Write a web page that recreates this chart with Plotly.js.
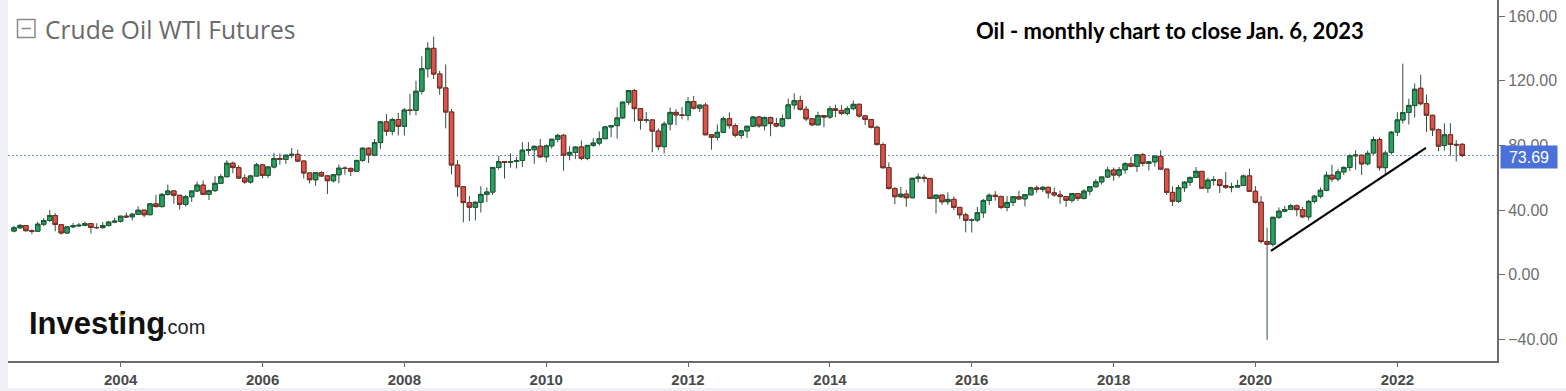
<!DOCTYPE html>
<html><head><meta charset="utf-8">
<script src="https://cdn.plot.ly/plotly-3.0.1.min.js"></script>
<style>
html,body{margin:0;padding:0;background:#eef0f4;width:1566px;height:391px;overflow:hidden}
#chart{position:absolute;left:8px;top:0;width:1558px;height:388px;background:#fff}
</style></head><body><div id="chart"></div>
<script>
const months = [
"2002-08","2002-09","2002-10","2002-11","2002-12",
"2003-01","2003-02","2003-03","2003-04","2003-05","2003-06","2003-07","2003-08","2003-09","2003-10","2003-11","2003-12",
"2004-01","2004-02","2004-03","2004-04","2004-05","2004-06","2004-07","2004-08","2004-09","2004-10","2004-11","2004-12",
"2005-01","2005-02","2005-03","2005-04","2005-05","2005-06","2005-07","2005-08","2005-09","2005-10","2005-11","2005-12",
"2006-01","2006-02","2006-03","2006-04","2006-05","2006-06","2006-07","2006-08","2006-09","2006-10","2006-11","2006-12",
"2007-01","2007-02","2007-03","2007-04","2007-05","2007-06","2007-07","2007-08","2007-09","2007-10","2007-11","2007-12",
"2008-01","2008-02","2008-03","2008-04","2008-05","2008-06","2008-07","2008-08","2008-09","2008-10","2008-11","2008-12",
"2009-01","2009-02","2009-03","2009-04","2009-05","2009-06","2009-07","2009-08","2009-09","2009-10","2009-11","2009-12",
"2010-01","2010-02","2010-03","2010-04","2010-05","2010-06","2010-07","2010-08","2010-09","2010-10","2010-11","2010-12",
"2011-01","2011-02","2011-03","2011-04","2011-05","2011-06","2011-07","2011-08","2011-09","2011-10","2011-11","2011-12",
"2012-01","2012-02","2012-03","2012-04","2012-05","2012-06","2012-07","2012-08","2012-09","2012-10","2012-11","2012-12",
"2013-01","2013-02","2013-03","2013-04","2013-05","2013-06","2013-07","2013-08","2013-09","2013-10","2013-11","2013-12",
"2014-01","2014-02","2014-03","2014-04","2014-05","2014-06","2014-07","2014-08","2014-09","2014-10","2014-11","2014-12",
"2015-01","2015-02","2015-03","2015-04","2015-05","2015-06","2015-07","2015-08","2015-09","2015-10","2015-11","2015-12",
"2016-01","2016-02","2016-03","2016-04","2016-05","2016-06","2016-07","2016-08","2016-09","2016-10","2016-11","2016-12",
"2017-01","2017-02","2017-03","2017-04","2017-05","2017-06","2017-07","2017-08","2017-09","2017-10","2017-11","2017-12",
"2018-01","2018-02","2018-03","2018-04","2018-05","2018-06","2018-07","2018-08","2018-09","2018-10","2018-11","2018-12",
"2019-01","2019-02","2019-03","2019-04","2019-05","2019-06","2019-07","2019-08","2019-09","2019-10","2019-11","2019-12",
"2020-01","2020-02","2020-03","2020-04","2020-05","2020-06","2020-07","2020-08","2020-09","2020-10","2020-11","2020-12",
"2021-01","2021-02","2021-03","2021-04","2021-05","2021-06","2021-07","2021-08","2021-09","2021-10","2021-11","2021-12",
"2022-01","2022-02","2022-03","2022-04","2022-05","2022-06","2022-07","2022-08","2022-09","2022-10","2022-11","2022-12",
"2023-01"];

const open = [
27.0,29.0,30.4,27.2,26.9,
31.2,33.5,36.6,30.9,25.8,29.6,30.2,30.5,31.6,29.2,29.1,30.4,
32.5,33.1,36.2,35.8,37.4,39.9,37.1,43.8,42.1,49.6,51.8,49.1,
43.5,48.2,51.8,55.4,49.7,52.0,56.5,60.6,68.9,66.2,59.8,57.3,
61.0,67.9,61.4,66.6,71.9,71.3,73.9,74.4,70.3,62.9,58.7,63.1,
61.1,58.1,61.8,65.9,65.7,64.0,70.7,78.2,74.0,81.7,94.5,88.7,
96.0,91.8,101.8,101.6,113.5,127.4,140.0,124.1,115.5,100.6,67.8,54.4,
44.6,41.7,44.8,49.7,51.1,66.3,69.9,69.5,70.0,70.6,77.0,77.3,
79.4,72.9,79.7,83.8,86.2,74.0,75.6,79.0,71.9,80.0,81.4,84.1,
91.4,92.2,97.0,106.7,113.9,102.7,95.4,95.7,88.8,79.2,93.2,100.4,
98.8,98.5,107.1,103.0,104.9,86.5,85.0,88.1,96.5,92.2,86.2,88.9,
91.8,97.5,92.1,97.2,93.5,92.0,96.6,105.0,107.7,102.3,96.4,92.7,
98.4,97.5,102.6,101.6,99.7,102.7,105.4,98.2,96.0,91.2,80.5,66.2,
53.3,48.2,49.8,47.6,59.6,60.2,59.5,47.1,49.2,45.1,46.6,41.6,
37.0,33.6,33.8,38.3,45.9,49.1,48.3,41.6,44.7,48.2,46.9,49.4,
53.7,52.8,54.0,50.6,49.3,48.3,46.0,50.2,47.2,51.7,54.4,57.4,
60.4,64.7,61.6,64.9,68.6,67.0,74.2,68.8,69.8,73.2,65.3,50.9,
45.4,53.8,57.2,60.1,63.9,53.5,58.5,58.6,55.1,54.1,54.2,55.2,
61.1,51.6,44.8,20.5,18.8,35.5,39.3,40.3,42.6,40.2,35.8,45.3,
48.5,52.2,61.5,59.2,63.6,66.3,73.5,73.9,68.6,75.3,83.6,66.2,
75.7,88.2,95.7,100.3,104.6,115.3,105.8,98.6,89.6,79.9,86.5,80.6,
80.6];

const high = [
30.3,31.4,30.5,28.0,32.7,
35.0,39.99,38.0,31.0,30.2,32.0,32.0,32.8,31.8,31.8,32.5,33.2,
35.2,36.5,38.4,38.2,42.3,40.0,44.0,49.4,50.5,55.7,52.0,49.3,
49.3,52.1,57.6,58.3,52.6,60.9,62.3,70.85,70.0,67.6,62.1,61.8,
69.2,68.3,67.1,75.35,75.0,74.0,78.4,77.3,70.4,62.9,63.2,64.0,
61.5,62.1,68.1,67.0,66.4,70.7,78.8,78.8,83.9,94.7,99.3,97.0,
100.1,103.0,111.8,119.9,135.1,143.7,147.27,126.1,130.0,102.5,71.0,54.6,
48.6,45.5,54.7,53.9,66.7,73.4,70.0,75.0,72.95,82.0,82.0,80.0,
83.95,80.5,83.9,87.15,87.0,79.4,79.4,83.0,80.1,84.4,88.6,92.1,
92.6,103.4,107.0,114.0,114.8,102.9,100.6,96.0,90.5,94.7,103.4,102.4,
103.7,109.8,110.55,105.1,106.4,86.8,92.9,97.8,100.4,93.6,89.6,91.9,
98.2,98.2,97.8,97.8,97.0,99.0,108.9,112.2,110.7,104.4,96.8,100.8,
98.8,104.4,105.2,104.9,104.3,107.7,105.7,98.8,96.0,92.2,81.8,69.4,
54.2,54.2,52.5,59.9,62.6,62.0,59.7,49.3,49.3,50.9,48.4,42.0,
38.4,34.8,41.9,46.8,50.2,51.7,49.0,48.75,48.3,51.9,49.9,54.5,
55.2,54.9,54.5,53.8,52.0,48.4,50.4,50.4,52.9,54.8,59.05,60.5,
66.7,66.3,66.6,69.6,72.9,74.5,75.3,70.4,73.9,76.9,65.4,54.55,
55.4,57.8,60.7,66.6,64.0,60.0,60.9,58.8,63.4,56.9,58.7,61.9,
65.65,54.7,48.7,29.1,35.7,41.6,42.5,43.8,43.4,41.9,46.3,49.4,
53.9,63.8,67.98,65.5,67.0,74.5,76.98,74.0,76.7,85.4,84.9,76.9,
88.8,100.5,130.5,108.8,118.2,123.7,111.45,98.8,90.4,93.6,93.7,83.3,
81.5];

const low = [
26.2,28.4,26.6,25.0,26.4,
30.0,32.6,26.8,24.8,25.1,28.8,29.5,30.0,25.5,28.2,28.5,29.8,
31.8,32.2,35.0,33.6,37.1,35.5,37.0,41.6,41.6,48.9,43.9,40.3,
42.1,45.0,51.1,49.3,46.2,51.1,56.0,60.2,62.8,59.5,56.2,56.3,
61.0,59.5,59.8,65.7,68.0,68.5,72.0,69.6,59.5,56.5,55.0,60.5,
49.9,57.0,56.5,61.9,61.0,64.0,69.8,69.0,73.3,77.8,85.9,86.2,
86.1,86.1,98.7,98.7,111.5,122.0,121.0,111.3,90.5,62.0,48.3,32.4,
33.2,33.55,38.5,45.0,49.3,65.0,59.5,66.1,65.7,66.5,74.2,68.6,
72.4,69.5,78.0,81.9,64.24,70.8,71.5,70.8,70.8,79.0,79.9,84.0,
85.1,84.1,96.2,105.0,94.6,89.7,93.7,75.7,77.1,74.95,89.2,92.5,
96.1,95.4,102.1,100.7,86.2,77.3,83.0,87.7,90.3,84.9,84.1,84.5,
91.7,90.9,89.3,85.6,91.2,91.1,96.0,102.2,101.4,95.0,91.8,92.4,
91.2,96.4,97.4,98.7,98.5,101.6,97.2,92.5,90.4,79.8,65.7,52.7,
43.6,47.4,42.0,47.1,57.1,57.2,46.7,37.75,43.2,43.2,40.0,34.5,
26.2,26.05,32.5,35.2,43.0,45.8,40.6,39.2,42.5,46.4,42.2,49.4,
50.7,51.2,47.1,48.2,43.8,42.05,44.4,45.6,46.5,49.1,53.9,55.8,
59.9,58.1,59.95,62.4,66.4,63.6,67.0,64.4,66.9,64.9,49.4,42.4,
44.35,51.2,55.0,59.9,53.0,50.6,55.2,50.5,52.9,50.99,54.0,55.0,
51.3,44.0,19.3,-40.3,17.3,34.4,38.7,40.0,36.1,34.9,33.6,44.1,
47.2,51.6,57.3,57.6,61.6,64.2,65.0,61.7,67.6,74.2,64.4,62.4,
74.3,85.7,93.5,92.9,97.2,104.6,88.3,85.7,76.25,76.7,73.6,70.1,
72.7];

const close = [
28.98,30.45,27.22,26.89,31.20,
33.51,36.60,31.04,25.80,29.56,30.19,30.54,31.57,29.20,29.11,30.41,32.52,
33.05,36.16,35.76,37.38,39.88,37.05,43.80,42.12,49.64,51.76,49.13,43.45,
48.20,51.75,55.40,49.72,51.97,56.50,60.57,68.94,66.24,59.76,57.32,61.04,
67.92,61.41,66.63,71.88,71.29,73.93,74.40,70.26,62.91,58.73,63.13,61.05,
58.14,61.79,65.87,65.71,64.01,70.68,78.21,74.04,81.66,94.53,88.71,95.98,
91.75,101.84,101.58,113.46,127.35,140.00,124.08,115.46,100.64,67.81,54.43,44.60,
41.68,44.76,49.66,51.12,66.31,69.89,69.45,69.96,70.61,77.00,77.28,79.36,
72.89,79.66,83.76,86.15,73.97,75.63,78.95,71.92,79.97,81.43,84.11,91.38,
92.19,96.97,106.72,113.93,102.70,95.42,95.70,88.81,79.20,93.19,100.36,98.83,
98.48,107.07,103.02,104.87,86.53,84.96,88.06,96.47,92.19,86.24,88.91,91.82,
97.49,92.05,97.23,93.46,91.97,96.56,105.03,107.65,102.33,96.38,92.72,98.42,
97.49,102.59,101.58,99.74,102.71,105.37,98.17,95.96,91.16,80.54,66.15,53.27,
48.24,49.76,47.60,59.63,60.30,59.47,47.12,49.20,45.09,46.59,41.65,37.04,
33.62,33.75,38.34,45.92,49.10,48.33,41.60,44.70,48.24,46.86,49.44,53.72,
52.81,54.01,50.60,49.33,48.32,46.04,50.17,47.23,51.67,54.38,57.40,60.42,
64.73,61.64,64.94,68.57,67.04,74.15,68.76,69.80,73.25,65.31,50.93,45.41,
53.79,57.22,60.14,63.91,53.50,58.47,58.58,55.10,54.07,54.18,55.17,61.06,
51.56,44.76,20.48,18.84,35.49,39.27,40.27,42.61,40.22,35.79,45.34,48.52,
52.20,61.50,59.16,63.58,66.32,73.47,73.95,68.50,75.03,83.57,66.18,75.21,
88.15,95.72,100.28,104.69,114.67,105.76,98.62,89.55,79.49,86.53,80.55,80.26,
73.69];

// hand-drawn support line (date, price)
const trendX = ["2020-04-21", "2022-06-28"];
const trendY = [14.7, 78.4];

const yTickVals = [-40, 0, 40, 80, 120, 160];
const chartTitle = "Crude Oil WTI Futures";
const noteText = "Oil - monthly chart to close Jan. 6, 2023";

// page-pixel helpers for decorations
const PX0 = 8, PW = 1489, PH = 361;
const px = x => (x - PX0) / PW;
const py = y => 1 - y / PH;

const lastPrice = close[close.length - 1];
// body extents (for drawing bodies over dark wicks)
const bodyTop = open.map((o, i) => Math.max(o, close[i]));
const bodyBot = open.map((o, i) => Math.min(o, close[i]));

const WICK = "#33503c";
const traces = [
  {
    type: "candlestick",
    x: months, open: open, high: high, low: low, close: close,
    increasing: { line: { color: WICK, width: 1 }, fillcolor: "#27a062" },
    decreasing: { line: { color: WICK, width: 1 }, fillcolor: "#d9544b" },
    whiskerwidth: 0, showlegend: false, hoverinfo: "skip"
  },
  {
    type: "candlestick",
    x: months, open: open, high: bodyTop, low: bodyBot, close: close,
    increasing: { line: { color: "#1d5a36", width: 1 }, fillcolor: "#27a062" },
    decreasing: { line: { color: "#7e2b24", width: 1 }, fillcolor: "#d9544b" },
    whiskerwidth: 0, showlegend: false, hoverinfo: "skip"
  },
  {
    type: "scatter", mode: "lines", x: trendX, y: trendY,
    line: { color: "#000000", width: 2.2 }, showlegend: false, hoverinfo: "skip"
  }
];

const layout = {
  width: 1558, height: 388,
  margin: { l: 0, r: 69, t: 0, b: 27, pad: 0 },
  paper_bgcolor: "#ffffff", plot_bgcolor: "#ffffff",
  showlegend: false,
  boxgap: 0.1, boxgroupgap: 0.1, boxmode: "overlay",
  xaxis: {
    type: "date",
    range: ["2002-07-01", "2023-06-29"],
    rangeslider: { visible: false },
    showgrid: false, zeroline: false,
    showline: true, linecolor: "#6b6b6b", linewidth: 2,
    ticks: "outside", ticklen: 4, tickwidth: 1, tickcolor: "#6b6b6b",
    tickmode: "linear", tick0: "2002-02-01", dtick: "M24", tickformat: "%Y",
    tickfont: { family: "Liberation Sans, Arial, sans-serif", size: 15, color: "#4a4a4a", weight: "bold" },
    fixedrange: true
  },
  yaxis: {
    side: "right",
    range: [-53.4, 169.9],
    tickmode: "array", tickvals: yTickVals, tickformat: ".2f",
    showgrid: false, zeroline: false,
    showline: true, linecolor: "#6b6b6b", linewidth: 2,
    ticks: "outside", ticklen: 6, tickwidth: 1, tickcolor: "#6b6b6b",
    tickfont: { family: "Liberation Sans, Arial, sans-serif", size: 16, color: "#6e6e6e" },
    fixedrange: true
  },
  shapes: [
    { type: "line", xref: "paper", yref: "y", x0: 0, x1: 1, y0: lastPrice, y1: lastPrice,
      line: { color: "#6a8ae0", width: 1, dash: "2px,2px" }, layer: "below" },
    { type: "rect", xref: "paper", yref: "paper", x0: px(17.5), x1: px(35), y0: py(37.5), y1: py(19.5),
      line: { color: "#8a8a8a", width: 1.5 } },
    { type: "line", xref: "paper", yref: "paper", x0: px(21.5), x1: px(31), y0: py(28.5), y1: py(28.5),
      line: { color: "#8a8a8a", width: 1.5 } },
    { type: "circle", xref: "paper", yref: "paper", x0: px(119.4), x1: px(124.4), y0: py(316.3), y1: py(311.3),
      fillcolor: "#f39c12", line: { width: 0 } }
  ],
  annotations: [
    { text: chartTitle, xref: "paper", yref: "paper", x: px(43), y: py(30), xanchor: "left", yanchor: "middle",
      showarrow: false, font: { family: "Open Sans, sans-serif", size: 24.6, color: "#6a6a6a" } },
    { text: noteText, xref: "paper", yref: "paper", x: px(1170), y: py(31), xanchor: "center", yanchor: "middle",
      showarrow: false, font: { family: "Lato, sans-serif", size: 22, color: "#000000", weight: "bold" } },
    { text: "Investing", xref: "paper", yref: "paper", x: px(27), y: py(323.6), xanchor: "left", yanchor: "middle",
      showarrow: false, font: { family: "Liberation Sans, Arial, sans-serif", size: 31, color: "#111111", weight: "bold" } },
    { text: ".com", xref: "paper", yref: "paper", x: px(160), y: py(327.4), xanchor: "left", yanchor: "middle",
      showarrow: false, font: { family: "Liberation Sans, Arial, sans-serif", size: 20, color: "#222222" } },
    { text: lastPrice.toFixed(2), xref: "paper", yref: "y", x: px(1528.7), y: lastPrice, yshift: -1,
      xanchor: "center", yanchor: "middle", showarrow: false, width: 56, height: 22, borderpad: 0,
      bgcolor: "#4a71da", font: { family: "Liberation Sans, Arial, sans-serif", size: 16, color: "#ffffff" } }
  ]
};

Plotly.newPlot("chart", traces, layout, { staticPlot: true, displayModeBar: false });
</script>
</body></html>
